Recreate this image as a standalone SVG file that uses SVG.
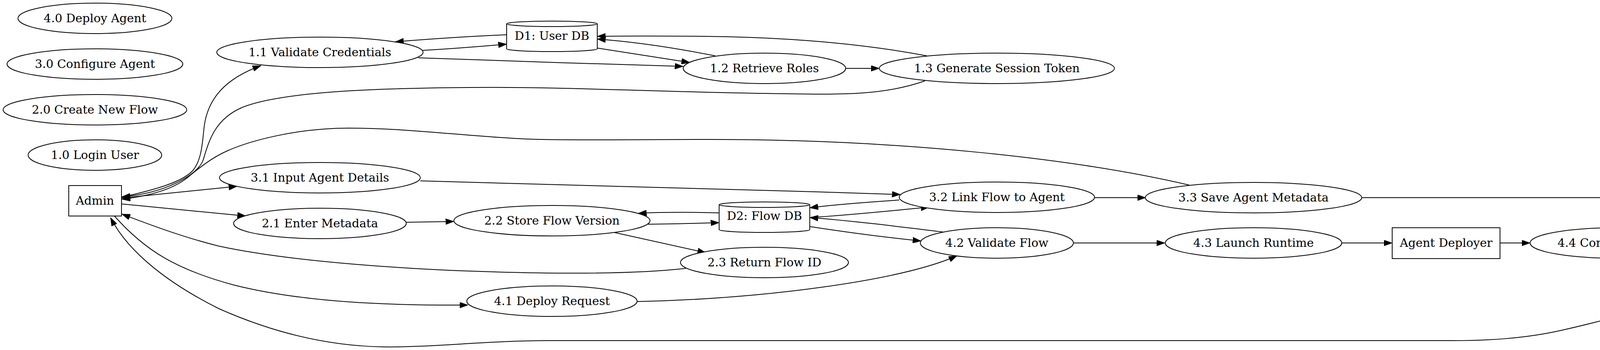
<svg xmlns="http://www.w3.org/2000/svg" width="5400" height="896" viewBox="0 0 5400 896">
<defs>
<marker id="arr" viewBox="0 0 10 7" refX="10" refY="3.5" markerWidth="21.4" markerHeight="15" markerUnits="userSpaceOnUse" orient="auto">
<path d="M0,0 L10,3.5 L0,7 Z" fill="#000" stroke="#000" stroke-width="0.5"/>
</marker>
</defs>
<style>
.n ellipse, .n rect, .n path { fill: #fff; stroke: #000; stroke-width: 2; }
.n text { font-family: "DejaVu Serif", "Liberation Serif", serif; font-size: 30px; text-anchor: middle; fill: #000; }
#edges path { fill: none; stroke: #000; stroke-width: 2; marker-end: url(#arr); }
</style>
<rect width="5400" height="896" fill="#fff"/>
<g id="edges">
<path d="M311,505 C400,485 470,465 495,435 C515,410 518,370 522,330 C530,250 580,200 668,168"/>
<path d="M1082,129 C1150,125 1240,118 1297,113"/>
<path d="M1297,89 C1200,93 1100,100 1012,107"/>
<path d="M1071,148 C1250,155 1550,164 1749,170"/>
<path d="M1529,123 C1600,134 1700,150 1766,160"/>
<path d="M1831,143 C1740,125 1640,108 1529,100"/>
<path d="M2373,143 C2200,110 2000,95 1800,93 C1700,92 1600,92 1529,93"/>
<path d="M2164,175 L2251,175"/>
<path d="M2368,207 C2260,245 2150,242 2016,240 C1700,236 1450,222 1200,224 C950,226 720,235 620,275 C550,305 535,360 520,410 C505,450 420,495 312,504"/>
<path d="M3045,474 C2750,405 2300,357 1816,357 C1600,357 1450,360 1353,356 C1200,350 1050,328 893,328 C760,328 640,360 580,387 C540,405 510,430 477,457 C440,485 380,502 312,510"/>
<path d="M311,507 L607,477"/>
<path d="M311,522 L629,553"/>
<path d="M1040,569 L1162,567"/>
<path d="M1756,687 C1600,705 1350,700 1150,692 C900,680 700,660 560,630 C460,605 370,570 312,548"/>
<path d="M293,553 C370,640 450,690 600,730 C780,775 1000,782 1198,781"/>
<path d="M4614,659 C4450,720 4200,800 4000,845 C3900,868 3800,872 3716,872 L1400,872 C1250,872 1100,890 980,888 C800,885 650,830 560,790 C440,730 330,650 283,557"/>
<path d="M1076,463 C1500,472 1900,485 2305,498"/>
<path d="M1841,545 C1770,543 1700,543 1634,546"/>
<path d="M1659,574 C1720,573 1780,572 1841,570"/>
<path d="M1572,595 L1807,647"/>
<path d="M1631,772 C1950,765 2300,720 2450,655"/>
<path d="M2302,512 C2220,518 2150,522 2073,532"/>
<path d="M2073,557 C2180,550 2280,540 2379,530"/>
<path d="M2414,594 C2300,580 2180,565 2073,557"/>
<path d="M2073,580 C2170,595 2270,608 2358,617"/>
<path d="M2748,622 L2982,622"/>
<path d="M2802,506 L2933,506"/>
<path d="M3486,506 L5102,506"/>
<path d="M3435,622 L3564,622"/>
<path d="M3840,622 L3917,622"/>
<path d="M4353,622 L4431,622"/>
<path d="M4978,622 L5058,622"/>
<path d="M4855,588 L5102,535"/>
</g>
<g id="n40" class="n"><ellipse cx="243" cy="47" rx="197" ry="39"/><text x="243" y="57">4.0 Deploy Agent</text></g>
<g id="n30" class="n"><ellipse cx="243" cy="164" rx="225" ry="39"/><text x="243" y="174">3.0 Configure Agent</text></g>
<g id="n20" class="n"><ellipse cx="243" cy="281" rx="235" ry="39"/><text x="243" y="291">2.0 Create New Flow</text></g>
<g id="n10" class="n"><ellipse cx="243" cy="397" rx="171" ry="39"/><text x="243" y="407">1.0 Login User</text></g>
<g id="admin" class="n"><rect x="176" y="475" width="135" height="78"/><text x="243" y="524">Admin</text></g>
<g id="n11" class="n"><ellipse cx="819" cy="134" rx="264" ry="39"/><text x="819" y="144">1.1 Validate Credentials</text></g>
<g id="n31" class="n"><ellipse cx="819" cy="455" rx="257" ry="39"/><text x="819" y="465">3.1 Input Agent Details</text></g>
<g id="n21" class="n"><ellipse cx="819" cy="572" rx="221" ry="39"/><text x="819" y="582">2.1 Enter Metadata</text></g>
<g id="d1" class="n"><path d="M1297,61 A116,7 0 0 1 1529,61 L1529,125 A116,7 0 0 1 1297,125 Z M1297,61 A116,7 0 0 0 1529,61"/><text x="1413" y="102">D1: User DB</text></g>
<g id="n22" class="n"><ellipse cx="1413" cy="565" rx="251" ry="39"/><text x="1413" y="575">2.2 Store Flow Version</text></g>
<g id="n41" class="n"><ellipse cx="1413" cy="771" rx="218" ry="39"/><text x="1413" y="781">4.1 Deploy Request</text></g>
<g id="n12" class="n"><ellipse cx="1957" cy="175" rx="208" ry="39"/><text x="1957" y="185">1.2 Retrieve Roles</text></g>
<g id="d2" class="n"><path d="M1841,524 A116,7 0 0 1 2073,524 L2073,588 A116,7 0 0 1 1841,588 Z M1841,524 A116,7 0 0 0 2073,524"/><text x="1957" y="563">D2: Flow DB</text></g>
<g id="n23" class="n"><ellipse cx="1957" cy="672" rx="215" ry="39"/><text x="1957" y="682">2.3 Return Flow ID</text></g>
<g id="n13" class="n"><ellipse cx="2552" cy="175" rx="301" ry="39"/><text x="2552" y="185">1.3 Generate Session Token</text></g>
<g id="n32" class="n"><ellipse cx="2552" cy="505" rx="250" ry="39"/><text x="2552" y="515">3.2 Link Flow to Agent</text></g>
<g id="n42" class="n"><ellipse cx="2552" cy="622" rx="196" ry="39"/><text x="2552" y="632">4.2 Validate Flow</text></g>
<g id="n33" class="n"><ellipse cx="3209" cy="506" rx="277" ry="39"/><text x="3209" y="516">3.3 Save Agent Metadata</text></g>
<g id="n43" class="n"><ellipse cx="3209" cy="622" rx="226" ry="39"/><text x="3209" y="632">4.3 Launch Runtime</text></g>
<g id="deployer" class="n"><rect x="3564" y="583" width="276" height="79"/><text x="3702" y="632">Agent Deployer</text></g>
<g id="n44" class="n"><ellipse cx="4135" cy="622" rx="218" ry="39"/><text x="4135" y="632">4.4 Confirm Deploy</text></g>
<g id="n45" class="n"><ellipse cx="4705" cy="622" rx="274" ry="39"/><text x="4705" y="632">4.5 Update Status &amp; Log</text></g>
<g id="d3" class="n"><path d="M5102,474 A122,7 0 0 1 5346,474 L5346,538 A122,7 0 0 1 5102,538 Z M5102,474 A122,7 0 0 0 5346,474"/><text x="5224" y="515">D3: Agent DB</text></g>
<g id="d4" class="n"><path d="M5058,590 A166.5,7 0 0 1 5391,590 L5391,655 A166.5,7 0 0 1 5058,655 Z M5058,590 A166.5,7 0 0 0 5391,590"/><text x="5224" y="631">D4: Execution Logs</text></g>
</svg>
